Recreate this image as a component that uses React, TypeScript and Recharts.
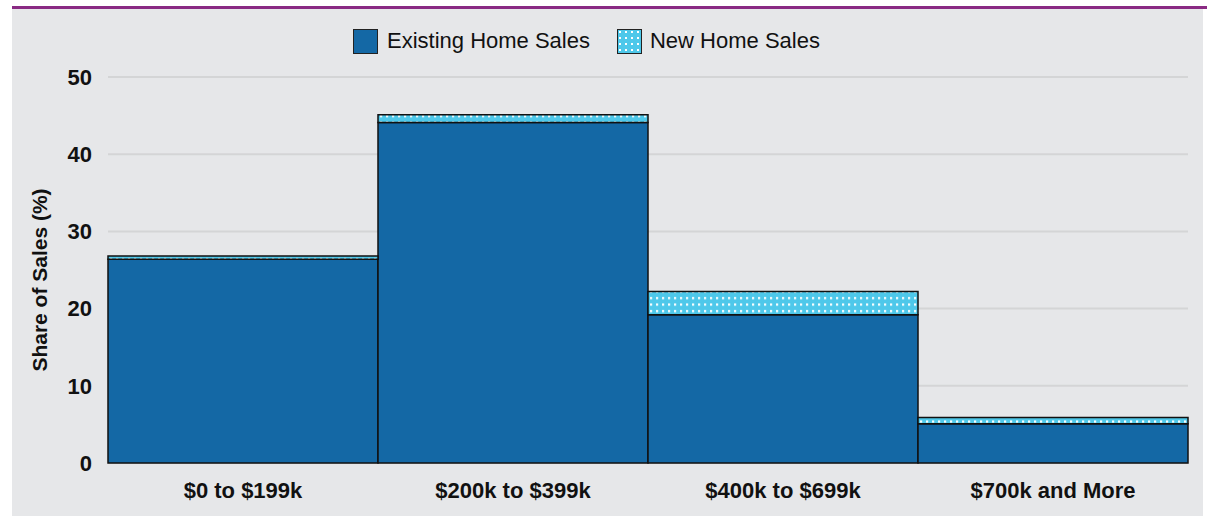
import { Bar, BarChart, CartesianGrid, XAxis, YAxis } from "recharts";

// Price band shares.
const CATEGORIES = ["$0 to $199k", "$200k to $399k", "$400k to $699k", "$700k and More"];
const EXISTING = [26.4, 44.1, 19.2, 5.1];
const NEW_HOMES = [0.4, 1.0, 3.0, 0.8];
const Y_TICKS = [0, 10, 20, 30, 40, 50];

const BLUE = "#1468a5";
const LIGHT = "#4ec8ea";
const GRID = "#d4d5d6";
const BG = "#e6e7e9";
const FONT = "'Liberation Sans', Arial, sans-serif";

const rows = CATEGORIES.map((c, i) => ({
  name: c,
  existing: EXISTING[i],
  newHomes: NEW_HOMES[i],
}));

const tick = { fontSize: 22, fontWeight: 700, fill: "#111", fontFamily: FONT };

function Swatch({ pattern }: { pattern?: boolean }) {
  return (
    <svg width={25} height={25} style={{ display: "block" }}>
      <defs>
        <pattern id="legendDots" width="6" height="6" patternUnits="userSpaceOnUse">
          <rect width="6" height="6" fill={LIGHT} />
          <rect x="2" y="2" width="2" height="2" fill="#fff" />
        </pattern>
      </defs>
      <rect
        x={0.5}
        y={0.5}
        width={24}
        height={24}
        fill={pattern ? "url(#legendDots)" : BLUE}
        stroke="#222"
        strokeWidth={1}
      />
    </svg>
  );
}

export default function App() {
  return (
    <div
      style={{
        position: "fixed",
        left: 0,
        top: 0,
        width: 1207,
        height: 516,
        background: "#fff",
        overflow: "hidden",
        fontFamily: FONT,
      }}
    >
      <div style={{ position: "absolute", left: 12, top: 6, width: 1195, height: 3, background: "#8a2a83" }} />
      <div style={{ position: "absolute", left: 12, top: 9, width: 1191, height: 507, background: BG }}>
        <div
          style={{
            position: "absolute",
            top: 19,
            left: 341,
            display: "flex",
            alignItems: "center",
            fontSize: 22,
            color: "#111",
            whiteSpace: "nowrap",
          }}
        >
          <Swatch />
          <span style={{ marginLeft: 9, marginRight: 27 }}>Existing Home Sales</span>
          <Swatch pattern />
          <span style={{ marginLeft: 8 }}>New Home Sales</span>
        </div>
        <div
          style={{
            position: "absolute",
            left: 28,
            top: 271,
            transform: "translate(-50%, -50%) rotate(-90deg)",
            whiteSpace: "nowrap",
            fontSize: 21,
            fontWeight: 700,
            color: "#111",
          }}
        >
          Share of Sales (%)
        </div>
        <BarChart
          width={1191}
          height={507}
          data={rows}
          margin={{ top: 68, right: 15, left: 0, bottom: 0 }}
          barCategoryGap={0}
          barGap={0}
        >
          <defs>
            <pattern id="dots" width="6" height="6.5" patternUnits="userSpaceOnUse">
              <rect width="6" height="6.5" fill={LIGHT} />
              <rect x="2" y="2" width="2.2" height="2.2" fill="#fff" />
            </pattern>
          </defs>
          <CartesianGrid stroke={GRID} strokeWidth={2} vertical={false} />
          <XAxis
            dataKey="name"
            tick={tick}
            tickLine={false}
            axisLine={false}
            tickSize={0}
            tickMargin={19}
            height={53}
            interval={0}
          />
          <YAxis
            domain={[0, 50]}
            ticks={Y_TICKS}
            tick={tick}
            tickLine={false}
            axisLine={false}
            tickSize={0}
            tickMargin={16}
            width={96}
          />
          <Bar
            dataKey="existing"
            stackId="s"
            fill={BLUE}
            stroke="#111"
            strokeWidth={1.5}
            isAnimationActive={false}
          />
          <Bar
            dataKey="newHomes"
            stackId="s"
            fill="url(#dots)"
            stroke="#111"
            strokeWidth={1.5}
            isAnimationActive={false}
          />
        </BarChart>
      </div>
    </div>
  );
}
